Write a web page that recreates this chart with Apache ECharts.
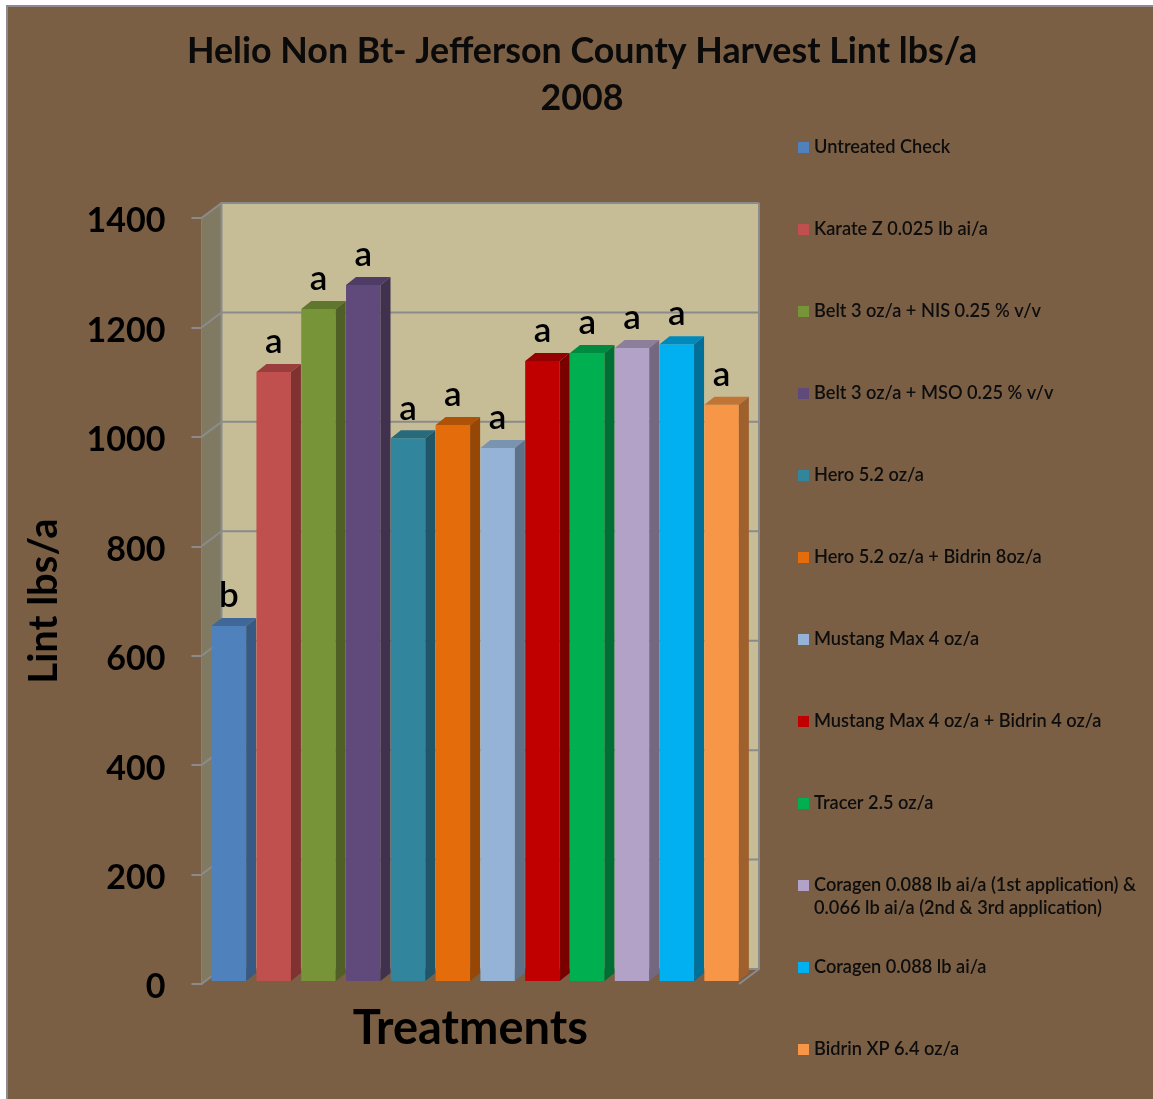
<!DOCTYPE html>
<html><head><meta charset="utf-8">
<style>html,body{margin:0;padding:0;background:#fff}#c{width:1153px;height:1099px}</style>
<script src="https://cdn.jsdelivr.net/npm/echarts@6/dist/echarts.min.js"></script>
</head><body><div id="c"></div>
<script>
const titleText = 'Helio Non Bt- Jefferson County Harvest Lint lbs/a\n2008';
const yAxisName = 'Lint lbs/a';
const xAxisName = 'Treatments';
const treatments = [
  'Untreated Check','Karate Z 0.025 lb ai/a','Belt 3 oz/a + NIS 0.25 % v/v','Belt 3 oz/a + MSO 0.25 % v/v',
  'Hero 5.2 oz/a','Hero 5.2 oz/a + Bidrin 8oz/a','Mustang Max 4 oz/a','Mustang Max 4 oz/a + Bidrin 4 oz/a',
  'Tracer 2.5 oz/a','Coragen 0.088 lb ai/a (1st application) &\n0.066 lb ai/a (2nd & 3rd application)',
  'Coragen 0.088 lb ai/a','Bidrin XP 6.4 oz/a'];
const lint = [649,1113,1228,1272,992,1016,974,1133,1148,1157,1164,1053];
const letters = ['b','a','a','a','a','a','a','a','a','a','a','a'];
const yTicks = [0,200,400,600,800,1000,1200,1400];
const frontColors = ['#4f81bd','#c0504d','#779438','#604a7b','#31859c','#e46c0a','#95b3d7','#c00000','#00b050','#b3a2c7','#00b0f0','#f79646'];
const topColors   = ['#3f6797','#993e3c','#5f762d','#4f3c66','#266a7c','#ae5208','#7a94b0','#950000','#008a3f','#8c7f9c','#008abc','#c17535'];
const sideColors  = ['#375a84','#7f3230','#4f5f25','#40314f','#1f5768','#964706','#5f7188','#7a0000','#006f33','#73687f','#006f99','#9e602c'];
const legendY = [147,229,311,393,475,557,639,721,803,885,967,1049];

const FONT = 'Lato';
const WALL_DX = 20, WALL_DY = 15, BAR_DX = 10, BAR_DY = 8, BAR_W = 34.5, SHIFT_X = 5, SHIFT_Y = 3;
const LINE = '#8b8b8b';
const LEGEND_TEXT = {color:'#0d0d0d', fontFamily:FONT, fontWeight:600, fontSize:18.2};

function poly(points, fill){ return {type:'polygon', shape:{points}, style:{fill, stroke:null}, silent:true}; }

function renderWall(params, api){
  const cs = params.coordSys;
  const xL = cs.x, xR = cs.x + cs.width;
  const yAt = v => api.coord([0, v])[1];
  const yB = yAt(yTicks[0]), yT = yAt(yTicks[yTicks.length-1]);
  const children = [
    poly([[xL,yB],[xL+WALL_DX,yB-WALL_DY],[xL+WALL_DX,yT-WALL_DY],[xL,yT]], '#817a63'),
    poly([[xL+WALL_DX,yB-WALL_DY],[xR+WALL_DX,yB-WALL_DY],[xR+WALL_DX,yT-WALL_DY],[xL+WALL_DX,yT-WALL_DY]], '#c6bd97')
  ];
  yTicks.forEach(v => {
    const y = yAt(v);
    children.push({type:'polyline', shape:{points:[[xL,y],[xL+WALL_DX,y-WALL_DY],[xR+WALL_DX,y-WALL_DY]]}, style:{stroke:LINE,lineWidth:2,fill:null}, silent:true});
  });
  children.push({type:'polyline', shape:{points:[[xL+WALL_DX,yT-WALL_DY],[xL+WALL_DX,yB-WALL_DY]]}, style:{stroke:LINE,lineWidth:2,fill:null}, silent:true});
  children.push({type:'polyline', shape:{points:[[xR,yB],[xR+WALL_DX,yB-WALL_DY],[xR+WALL_DX,yT-WALL_DY]]}, style:{stroke:LINE,lineWidth:2,fill:null}, silent:true});
  return {type:'group', children};
}

function renderBar(i){
  return function(params, api){
    const top = api.coord([api.value(0), api.value(1)]);
    const base = api.coord([api.value(0), 0]);
    const xl = top[0] + SHIFT_X - BAR_W/2, xr = xl + BAR_W;
    const yt = top[1] - SHIFT_Y, yb = base[1] - SHIFT_Y;
    return {type:'group', children:[
      poly([[xl,yb],[xr,yb],[xr,yt],[xl,yt]], frontColors[i]),
      poly([[xl,yt],[xr,yt],[xr+BAR_DX,yt-BAR_DY],[xl+BAR_DX,yt-BAR_DY]], topColors[i]),
      poly([[xr,yb],[xr+BAR_DX,yb-BAR_DY],[xr+BAR_DX,yt-BAR_DY],[xr,yt]], sideColors[i]),
      {type:'text', silent:true, style:{text:letters[i], x:(xl+xr)/2, y:yt-30, align:'center', verticalAlign:'middle',
        fill:'#000', font:'600 35px '+FONT}}
    ]};
  };
}

const series = [{
  type:'custom', name:'wall', silent:true, z:1, renderItem:renderWall,
  data:[[treatments[0], 0]], encode:{x:0,y:1}
}];
treatments.forEach((t,i)=>{
  series.push({type:'custom', name:t, z:2+i, renderItem:renderBar(i), itemStyle:{color:frontColors[i]},
    data:[[t, lint[i]]], encode:{x:0,y:1}});
});

const legends = treatments.map((t,i)=>({
  left:798, top:legendY[i]-10.5, padding:0, orient:'vertical', data:[t], itemWidth:11, itemHeight:11, itemGap:0,
  selectedMode:false, icon:'rect', formatter:name=>name.split('\n')[0],
  textStyle:Object.assign({lineHeight:22}, LEGEND_TEXT)
}));
// continuation lines of long legend entries
const legendExtras = treatments.map((t,i)=>[t.split('\n')[1], legendY[i]]).filter(e=>e[0]).map(e=>({
  type:'text', silent:true, left:814, top:e[1]+14,
  style:{text:e[0], fill:LEGEND_TEXT.color, font:LEGEND_TEXT.fontWeight+' '+LEGEND_TEXT.fontSize+'px '+FONT}
}));

const chart = echarts.init(document.getElementById('c'), null, {renderer:'canvas'});
chart.setOption({
  animation:false,
  backgroundColor:'#ffffff',
  graphic:[{type:'rect', z:-10, silent:true, shape:{x:7,y:6,width:1160,height:1110}, style:{fill:'#7a5f45',stroke:'#8c8c8c',lineWidth:2}}].concat(legendExtras),
  title:{text:titleText, left:582, top:28, textAlign:'center', padding:0,
    textStyle:{color:'#0a0a0a', fontFamily:FONT, fontWeight:700, fontSize:35.8, lineHeight:47}},
  legend:legends,
  grid:{left:201.5, right:1153-739, top:218, bottom:1099-984},
  xAxis:{type:'category', data:treatments, name:xAxisName, nameLocation:'middle', nameGap:45,
    nameTextStyle:{color:'#000', fontFamily:FONT, fontWeight:700, fontSize:47, verticalAlign:'middle'},
    axisLine:{show:false}, axisTick:{show:false}, axisLabel:{show:false}},
  yAxis:{type:'value', min:0, max:1400, interval:200, name:yAxisName, nameLocation:'middle', nameGap:157, nameRotate:90,
    nameTextStyle:{color:'#000', fontFamily:FONT, fontWeight:700, fontSize:40, verticalAlign:'middle'},
    axisLine:{show:true, lineStyle:{color:LINE,width:2}}, axisTick:{show:true,length:10,inside:false,lineStyle:{color:LINE,width:2}},
    axisLabel:{color:'#000', fontFamily:FONT, fontWeight:700, fontSize:34, margin:36, verticalAlign:'top', lineHeight:7, formatter:v=>String(v)}, splitLine:{show:false}},
  series
});
</script></body></html>
